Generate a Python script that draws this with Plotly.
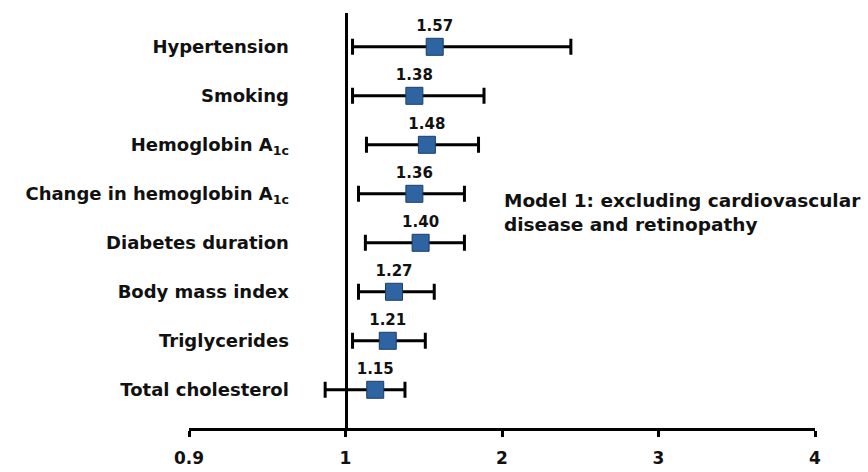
import numpy as np
import plotly.graph_objects as go

# ---- data ----
categories = [
    "Hypertension",
    "Smoking",
    "Hemoglobin A<sub>1c</sub>",
    "Change in hemoglobin A<sub>1c</sub>",
    "Diabetes duration",
    "Body mass index",
    "Triglycerides",
    "Total cholesterol",
]
or_labels = ["1.57", "1.38", "1.48", "1.36", "1.40", "1.27", "1.21", "1.15"]
or_plotted = [1.57, 1.44, 1.52, 1.44, 1.48, 1.31, 1.27, 1.19]
ci_low = [1.045, 1.045, 1.134, 1.083, 1.127, 1.083, 1.045, 0.987]
ci_high = [2.44, 1.885, 1.85, 1.76, 1.76, 1.567, 1.51, 1.38]
x_ticks = [0.9, 1, 2, 3, 4]
note_text = "Model 1: excluding cardiovascular<br>disease and retinopathy"


# broken axis: the 0.9-1 segment is drawn ten times wider than 1-2
def axis_pos(v):
    v = np.asarray(v, dtype=float)
    return np.where(v >= 1, v, 1 - (1 - v) * 10)


n = len(categories)
rows = np.arange(n, 0, -1)
xp = axis_pos(or_plotted)
lo = axis_pos(ci_low)
hi = axis_pos(ci_high)
tickpos = axis_pos(x_ticks)
xmin, xmax = float(tickpos.min()), float(tickpos.max())

FONT = "DejaVu Sans"

fig = go.Figure()
fig.add_trace(go.Scatter(
    x=xp, y=rows,
    mode="markers+text",
    text=or_labels,
    textposition="top center",
    textfont=dict(family=FONT, size=15, color="#111111", weight="bold"),
    marker=dict(symbol="square", size=17, color="#2F64A3",
                line=dict(color="#1C3D66", width=1)),
    error_x=dict(type="data", symmetric=False,
                 array=hi - xp, arrayminus=xp - lo,
                 color="black", thickness=3, width=8),
    showlegend=False,
    cliponaxis=False,
))

fig.add_annotation(
    x=2, y=4.62, xref="x", yref="y",
    text=note_text, showarrow=False, xanchor="left", yanchor="middle",
    align="left",
    font=dict(family=FONT, size=18.5, color="#111111", weight="bold"),
)

fig.update_layout(
    width=868, height=472,
    margin=dict(l=189, r=53, t=13, b=44),
    plot_bgcolor="white", paper_bgcolor="white",
    font=dict(family=FONT, color="#111111"),
    xaxis=dict(
        range=[xmin, xmax],
        tickvals=tickpos, ticktext=[f"{t:g}" for t in x_ticks],
        showline=True, linewidth=3, linecolor="black",
        ticks="outside", ticklen=6, tickwidth=3, tickcolor="black",
        showgrid=False, zeroline=False,
        tickfont=dict(family=FONT, size=17, color="#111111", weight="bold"),
        ticklabelstandoff=7,
        automargin=False,
    ),
    yaxis=dict(
        range=[0.22, n + 0.69],
        tickvals=rows, ticktext=categories,
        anchor="free",
        position=(axis_pos(1).item() - xmin) / (xmax - xmin),
        showline=True, linewidth=3, linecolor="black",
        ticks="", showgrid=False, zeroline=False,
        tickfont=dict(family=FONT, size=18, color="#111111", weight="bold"),
        ticklabelstandoff=52,
        automargin=False,
    ),
)

fig.write_html("out.html")
